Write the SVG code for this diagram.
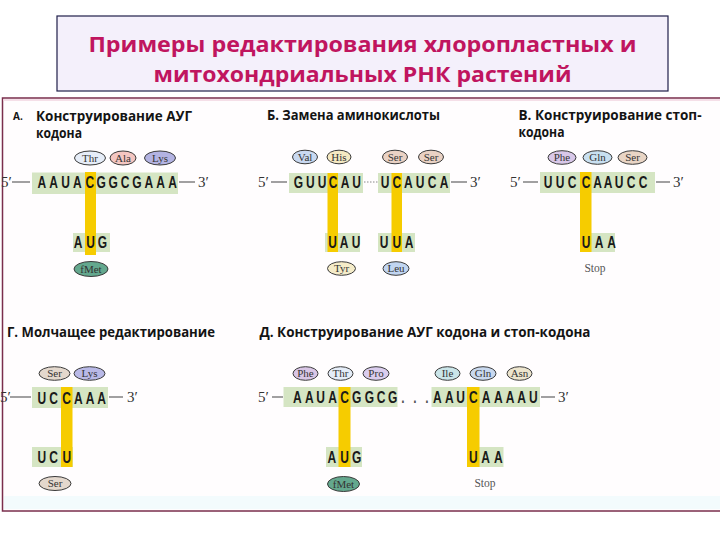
<svg xmlns="http://www.w3.org/2000/svg" width="720" height="540" viewBox="0 0 720 540">
<defs>
<style>
.hd{font-family:"Open Sans","Liberation Sans",sans-serif;font-weight:bold;font-size:13.5px;fill:#141414}
.ttl{font-family:"Open Sans","Liberation Sans",sans-serif;font-weight:bold;font-size:22px;fill:#c0155f}
.nt{font-family:"Liberation Sans",Arial,sans-serif;font-weight:bold;font-size:16px;fill:#1a1a1a;text-anchor:middle}
.g{fill:#d5e5c3}
.y{fill:#f6cc00}
.ov{stroke:#3a3a3a;stroke-width:1}
.aa{font-family:"Liberation Serif",serif;font-size:11px;fill:#333;text-anchor:middle}
.end{font-family:"Liberation Serif",serif;font-size:15px;fill:#333}
.ln{stroke:#555;stroke-width:1.1;fill:none}
.stop{font-family:"Liberation Serif",serif;font-size:11.5px;fill:#555;text-anchor:middle}
.dots{font-family:"Liberation Sans",Arial,sans-serif;font-weight:bold;font-size:16px;fill:#555;text-anchor:middle}
</style>
</defs>
<rect width="720" height="540" fill="#ffffff"/>
<rect x="2.5" y="98" width="730" height="413" fill="#fffdfe" stroke="#7a2e4c" stroke-width="1.5"/>
<rect x="4" y="496" width="716" height="13" fill="#f3fbfd"/>
<line x1="3" y1="100" x2="720" y2="100" stroke="#f2d4e0" stroke-width="1.5"/>

<g id="title">
<rect x="57" y="16" width="611" height="75" fill="#f4f0fb" stroke="#1f1f4a" stroke-width="1.2"/>
<text class="ttl" x="362.5" y="52" text-anchor="middle" textLength="548" lengthAdjust="spacingAndGlyphs">Примеры  редактирования хлоропластных и</text>
<text class="ttl" x="362.5" y="82" text-anchor="middle" textLength="418" lengthAdjust="spacingAndGlyphs">митохондриальных РНК растений</text>
</g>

<g id="connectors">
<line class="ln" x1="12" y1="182" x2="30" y2="182"/>
<line class="ln" x1="179" y1="182" x2="195" y2="182"/>
<line class="ln" x1="271" y1="182" x2="287" y2="182"/>
<line x1="364" y1="182" x2="378" y2="182" stroke="#888" stroke-width="1" stroke-dasharray="1.5,1.5"/>
<line class="ln" x1="451" y1="182" x2="467" y2="182"/>
<line class="ln" x1="523" y1="182" x2="538" y2="182"/>
<line class="ln" x1="656" y1="182" x2="670" y2="182"/>
<line class="ln" x1="10" y1="397" x2="31" y2="397"/>
<line class="ln" x1="109" y1="397" x2="123" y2="397"/>
<line class="ln" x1="272" y1="397" x2="283" y2="397"/>
<line class="ln" x1="541" y1="397" x2="555" y2="397"/>
</g>

<g id="panelA">
<text x="13" y="120" font-family="Open Sans, Liberation Sans, sans-serif" font-weight="bold" font-size="10" fill="#141414">А.</text>
<text class="hd" x="36" y="121" textLength="156" lengthAdjust="spacingAndGlyphs">Конструирование  АУГ</text>
<text class="hd" x="36" y="137.5" textLength="46" lengthAdjust="spacingAndGlyphs">кодона</text>
<ellipse class="ov" cx="90" cy="158" rx="15.5" ry="7" fill="#e6edf8"/><text class="aa" x="90" y="161.8">Thr</text>
<ellipse class="ov" cx="123" cy="158" rx="13" ry="7" fill="#f4c6c1"/><text class="aa" x="123" y="161.8">Ala</text>
<ellipse class="ov" cx="160" cy="158" rx="15.5" ry="7" fill="#b3b3e2"/><text class="aa" x="160" y="161.8">Lys</text>
<text class="end" x="1" y="187">5′</text>
<text class="end" x="198" y="187">3′</text>
<rect class="g" x="32" y="172.5" width="146" height="21.5"/>
<rect class="g" x="73" y="233" width="37" height="19"/>
<rect class="y" x="85" y="172" width="11" height="83"/>
<text class="nt" transform="translate(41.7 0) scale(0.75 1)" x="0 15.87 31.73 47.6 64.13 79.33 95.2 111.07 126.93 142.8 158.67 174.53" y="188">AAUACGGCGAAA</text>
<text class="nt" transform="translate(78 0) scale(0.75 1)" x="0 16.67 32.67" y="248">AUG</text>
<ellipse class="ov" cx="91" cy="269" rx="17" ry="7.5" fill="#64a88e"/><text class="aa" x="91" y="272.8" fill="#1e3a30">fMet</text>
</g>

<g id="panelB">
<text class="hd" x="267" y="120" textLength="173" lengthAdjust="spacingAndGlyphs">Б. Замена аминокислоты</text>
<ellipse class="ov" cx="305" cy="157" rx="12.5" ry="6.8" fill="#c9d9f1"/><text class="aa" x="305" y="160.8">Val</text>
<ellipse class="ov" cx="339" cy="157" rx="12" ry="6.8" fill="#f5e9c2"/><text class="aa" x="339" y="160.8">His</text>
<ellipse class="ov" cx="395" cy="157" rx="12.5" ry="6.8" fill="#ead2c4"/><text class="aa" x="395" y="160.8">Ser</text>
<ellipse class="ov" cx="431" cy="157" rx="12.5" ry="6.8" fill="#ead2c4"/><text class="aa" x="431" y="160.8">Ser</text>
<text class="end" x="258" y="187">5′</text>
<text class="end" x="470" y="187">3′</text>
<rect class="g" x="289" y="173" width="74" height="20"/>
<rect class="g" x="378" y="173" width="72" height="20"/>
<rect class="g" x="325" y="233" width="35" height="19"/>
<rect class="g" x="378" y="233" width="37" height="19"/>
<rect class="y" x="327.5" y="173" width="10.5" height="79"/>
<rect class="y" x="391.5" y="173" width="10.5" height="79"/>
<text class="nt" transform="translate(298.3 0) scale(0.75 1)" x="0 16 31.6 46.27 62.27 77.6" y="188">GUUCAU</text>
<text class="nt" transform="translate(385 0) scale(0.75 1)" x="0 15.73 31.07 46.67 62.67 78.67" y="188">UCAUCA</text>
<text class="nt" transform="translate(332.5 0) scale(0.75 1)" x="0 15.33 31.33" y="248">UAU</text>
<text class="nt" transform="translate(384 0) scale(0.75 1)" x="0 17.07 33.33" y="248">UUA</text>
<ellipse class="ov" cx="341.5" cy="268.5" rx="14" ry="6.8" fill="#f5ecc9"/><text class="aa" x="341.5" y="272.3">Tyr</text>
<ellipse class="ov" cx="396" cy="268.5" rx="13" ry="6.8" fill="#c1d5f1"/><text class="aa" x="396" y="272.3">Leu</text>
</g>

<g id="panelC">
<text class="hd" x="518.5" y="120" textLength="183" lengthAdjust="spacingAndGlyphs">В. Конструирование  стоп-</text>
<text class="hd" x="518.5" y="137" textLength="46" lengthAdjust="spacingAndGlyphs">кодона</text>
<ellipse class="ov" cx="562" cy="157.5" rx="14" ry="6.8" fill="#d9c8e9"/><text class="aa" x="562" y="161.3">Phe</text>
<ellipse class="ov" cx="597.5" cy="157.5" rx="14.5" ry="6.8" fill="#c9e0f1"/><text class="aa" x="597.5" y="161.3">Gln</text>
<ellipse class="ov" cx="632.5" cy="157.5" rx="14.5" ry="6.8" fill="#e9d5c5"/><text class="aa" x="632.5" y="161.3">Ser</text>
<text class="end" x="510" y="187">5′</text>
<text class="end" x="673" y="187">3′</text>
<rect class="g" x="540" y="172" width="115" height="21"/>
<rect class="g" x="580" y="233" width="35" height="19"/>
<rect class="y" x="580" y="172" width="11.5" height="80"/>
<text class="nt" transform="translate(548 0) scale(0.75 1)" x="0 16 32 50.67 66 80 94.67 110.67 126.67" y="188">UUCCAAUCC</text>
<text class="nt" transform="translate(586 0) scale(0.75 1)" x="0 17.33 34" y="248">UAA</text>
<text class="stop" x="595" y="271.5">Stop</text>
</g>

<g id="panelD">
<text class="hd" x="7" y="336.5" textLength="208" lengthAdjust="spacingAndGlyphs">Г. Молчащее редактирование</text>
<ellipse class="ov" cx="54.5" cy="373.5" rx="15.5" ry="6.8" fill="#e4d8cd"/><text class="aa" x="54.5" y="377.3">Ser</text>
<ellipse class="ov" cx="89.5" cy="373.5" rx="15.5" ry="6.8" fill="#b9b9e7"/><text class="aa" x="89.5" y="377.3">Lys</text>
<text class="end" x="0" y="402" font-size="14">5′</text>
<text class="end" x="127" y="402">3′</text>
<rect class="g" x="32" y="387" width="76" height="21"/>
<rect class="g" x="32" y="447" width="41" height="20"/>
<rect class="y" x="61" y="387" width="11.5" height="80"/>
<text class="nt" transform="translate(41.7 0) scale(0.75 1)" x="0 15.73 33.33 48.8 64.4 80" y="404">UCCAAA</text>
<text class="nt" transform="translate(41.7 0) scale(0.75 1)" x="0 15.73" y="463.5">UC</text>
<text class="nt" transform="translate(66.7 0) scale(0.75 1)" x="0" y="463.5" fill="#d0620e">U</text>
<ellipse class="ov" cx="55" cy="483.5" rx="16" ry="7" fill="#e4d8cd"/><text class="aa" x="55" y="487.3">Ser</text>
</g>

<g id="panelE">
<text class="hd" x="259.5" y="336.5" textLength="331" lengthAdjust="spacingAndGlyphs">Д. Конструирование  АУГ кодона и стоп-кодона</text>
<ellipse class="ov" cx="305.5" cy="373.5" rx="12.5" ry="6.8" fill="#d9c6e6"/><text class="aa" x="305.5" y="377.3">Phe</text>
<ellipse class="ov" cx="340.5" cy="373.5" rx="12.5" ry="6.8" fill="#e5edf8"/><text class="aa" x="340.5" y="377.3">Thr</text>
<ellipse class="ov" cx="376" cy="373.5" rx="13" ry="6.8" fill="#dacdee"/><text class="aa" x="376" y="377.3">Pro</text>
<ellipse class="ov" cx="447.5" cy="373.5" rx="12.5" ry="6.8" fill="#cae5e9"/><text class="aa" x="447.5" y="377.3">Ile</text>
<ellipse class="ov" cx="483" cy="373.5" rx="13" ry="6.8" fill="#c9d9ef"/><text class="aa" x="483" y="377.3">Gln</text>
<ellipse class="ov" cx="519.5" cy="373.5" rx="12.5" ry="6.8" fill="#ede5cd"/><text class="aa" x="519.5" y="377.3">Asn</text>
<text class="end" x="258" y="402">5′</text>
<text class="end" x="558" y="402">3′</text>
<rect class="g" x="283.5" y="387" width="114" height="20"/>
<rect class="g" x="431.5" y="387" width="108.5" height="20"/>
<rect class="g" x="326" y="447" width="36" height="20"/>
<rect class="g" x="467" y="447" width="36.5" height="20"/>
<rect class="y" x="338.5" y="387" width="12" height="80"/>
<rect class="y" x="467" y="387" width="12.5" height="80"/>
<text class="nt" transform="translate(297.3 0) scale(0.75 1)" x="0 16 31.2 47.2 62.93 79.2 96 111.6 127.2" y="403.5">AAUACGGCG</text>
<text class="dots" transform="translate(403 0) scale(0.75 1)" x="0 16 32" y="403.5">...</text>
<text class="nt" transform="translate(437.3 0) scale(0.75 1)" x="0 16 31.2 48 64.93 81.33 96.93 112.53 128" y="403.5">AAUCAAAAU</text>
<text class="nt" transform="translate(331.7 0) scale(0.75 1)" x="0 17.07 33.33" y="463.5">AUG</text>
<text class="nt" transform="translate(473.3 0) scale(0.75 1)" x="0 16.27 33.33" y="463.5">UAA</text>
<ellipse class="ov" cx="343.5" cy="484" rx="16" ry="7.5" fill="#64a88e"/><text class="aa" x="343.5" y="487.8" fill="#1e3a30">fMet</text>
<text class="stop" x="485" y="487">Stop</text>
</g>
</svg>
